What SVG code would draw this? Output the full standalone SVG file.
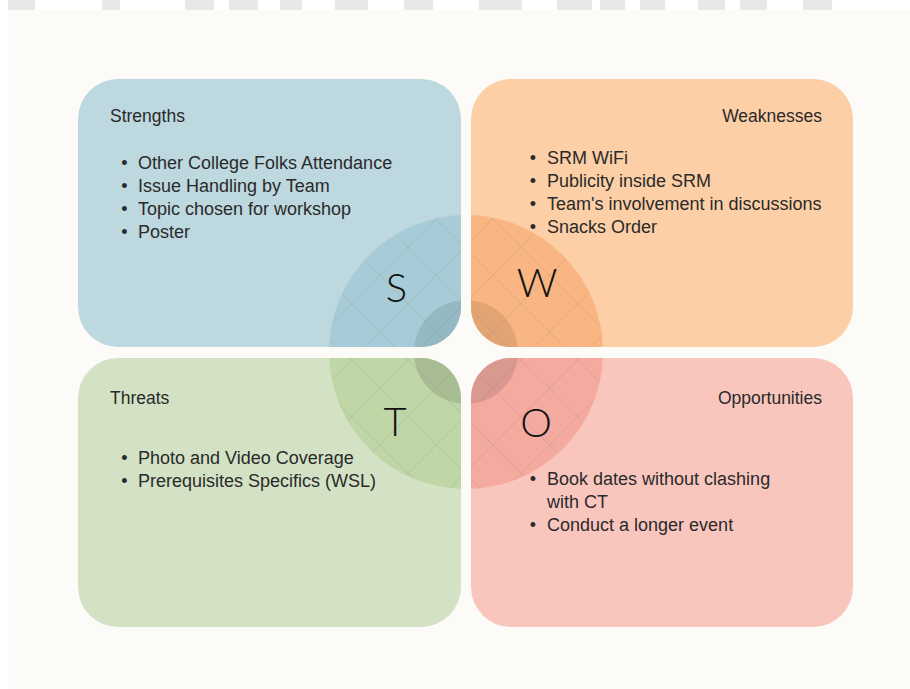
<svg xmlns="http://www.w3.org/2000/svg" width="910" height="689" viewBox="0 0 910 689">
  <style>
    .title { font-family: "Liberation Sans", Arial, sans-serif; font-size: 17.5px; fill: #2a2a2a; }
    .item { font-family: "Liberation Sans", Arial, sans-serif; font-size: 18px; fill: #2a2a2a; }
    .bullet { font-family: "Liberation Sans", Arial, sans-serif; font-size: 18px; fill: #2a2a2a; text-anchor: middle; }
    .letter { font-family: "Lato", "Open Sans", "DejaVu Sans", sans-serif; font-weight: 300; font-size: 40px; fill: #111; text-anchor: middle; }
    .end { text-anchor: end; }
    .wm { fill: #E8E8E8; }
  </style>
  <defs>
    <clipPath id="clipS"><rect x="78" y="79" width="383" height="268" rx="40" ry="40"/></clipPath>
    <clipPath id="clipW"><rect x="471" y="79" width="382" height="268" rx="40" ry="40"/></clipPath>
    <clipPath id="clipT"><rect x="78" y="358" width="383" height="269" rx="40" ry="40"/></clipPath>
    <clipPath id="clipO"><rect x="471" y="358" width="382" height="269" rx="40" ry="40"/></clipPath>
    <pattern id="grid" patternUnits="userSpaceOnUse" width="40" height="40" patternTransform="translate(12,20) rotate(45)">
      <path d="M0 0H40M0 0V40" fill="none" stroke="#6f6f6f" stroke-opacity="0.28" stroke-width="1"/>
    </pattern>
  </defs>

  <!-- page -->
  <rect x="0" y="0" width="910" height="689" fill="#FFFFFF"/>
  <g id="watermark">
    <rect class="wm" x="8" y="0" width="27" height="10"/>
    <rect class="wm" x="102" y="0" width="18" height="10"/>
    <rect class="wm" x="185" y="0" width="29" height="10"/>
    <rect class="wm" x="229" y="0" width="29" height="10"/>
    <rect class="wm" x="280" y="0" width="22" height="10"/>
    <rect class="wm" x="335" y="0" width="33" height="10"/>
    <rect class="wm" x="404" y="0" width="29" height="10"/>
    <rect class="wm" x="479" y="0" width="43" height="10"/>
    <rect class="wm" x="557" y="0" width="35" height="10"/>
    <rect class="wm" x="600" y="0" width="25" height="10"/>
    <rect class="wm" x="640" y="0" width="25" height="10"/>
    <rect class="wm" x="698" y="0" width="27" height="10"/>
    <rect class="wm" x="740" y="0" width="27" height="10"/>
    <rect class="wm" x="803" y="0" width="29" height="10"/>
  </g>
  <rect x="8" y="10" width="902" height="679" fill="#FCFBF8"/>

  <g id="strengths">
    <rect x="78" y="79" width="383" height="268" rx="40" ry="40" fill="#BDD8DF"/>
    <g clip-path="url(#clipS)">
      <circle cx="466" cy="352" r="137" fill="#A8CCD7"/>
      <circle cx="466" cy="352" r="52" fill="#95B9C3"/>
      <circle cx="466" cy="352" r="137" fill="url(#grid)"/>
    </g>
    <text class="letter" x="396.5" y="302">S</text>
    <text class="title" x="110" y="122">Strengths</text>
    <text class="bullet" x="124.5" y="168.5">•</text>
    <text class="item" x="138" y="168.5">Other College Folks Attendance</text>
    <text class="bullet" x="124.5" y="191.5">•</text>
    <text class="item" x="138" y="191.5">Issue Handling by Team</text>
    <text class="bullet" x="124.5" y="215">•</text>
    <text class="item" x="138" y="215">Topic chosen for workshop</text>
    <text class="bullet" x="124.5" y="238">•</text>
    <text class="item" x="138" y="238">Poster</text>
  </g>

  <g id="weaknesses">
    <rect x="471" y="79" width="382" height="268" rx="40" ry="40" fill="#FCCFA6"/>
    <g clip-path="url(#clipW)">
      <circle cx="466" cy="352" r="137" fill="#F9B682"/>
      <circle cx="466" cy="352" r="52" fill="#E3A474"/>
      <circle cx="466" cy="352" r="137" fill="url(#grid)"/>
    </g>
    <text class="letter" x="537" y="297">W</text>
    <text class="title end" x="822" y="122">Weaknesses</text>
    <text class="bullet" x="533" y="163.5">•</text>
    <text class="item" x="547" y="163.5">SRM WiFi</text>
    <text class="bullet" x="533" y="186.5">•</text>
    <text class="item" x="547" y="186.5">Publicity inside SRM</text>
    <text class="bullet" x="533" y="209.5">•</text>
    <text class="item" x="547" y="209.5">Team's involvement in discussions</text>
    <text class="bullet" x="533" y="232.5">•</text>
    <text class="item" x="547" y="232.5">Snacks Order</text>
  </g>

  <g id="threats">
    <rect x="78" y="358" width="383" height="269" rx="40" ry="40" fill="#D3E2C4"/>
    <g clip-path="url(#clipT)">
      <circle cx="466" cy="352" r="137" fill="#BFD6A7"/>
      <circle cx="466" cy="352" r="52" fill="#A8BD93"/>
      <circle cx="466" cy="352" r="137" fill="url(#grid)"/>
    </g>
    <text class="letter" x="395" y="436">T</text>
    <text class="title" x="110" y="403.5">Threats</text>
    <text class="bullet" x="124.5" y="463.5">•</text>
    <text class="item" x="138" y="463.5">Photo and Video Coverage</text>
    <text class="bullet" x="124.5" y="486.5">•</text>
    <text class="item" x="138" y="486.5">Prerequisites Specifics (WSL)</text>
  </g>

  <g id="opportunities">
    <rect x="471" y="358" width="382" height="269" rx="40" ry="40" fill="#F9C6BE"/>
    <g clip-path="url(#clipO)">
      <circle cx="466" cy="352" r="137" fill="#F4AA9F"/>
      <circle cx="466" cy="352" r="52" fill="#DA9990"/>
      <circle cx="466" cy="352" r="137" fill="url(#grid)"/>
    </g>
    <text class="letter" x="536" y="437">O</text>
    <text class="title end" x="822" y="404">Opportunities</text>
    <text class="bullet" x="533" y="485">•</text>
    <text class="item" x="547" y="485">Book dates without clashing</text>
    <text class="item" x="547" y="507.5">with CT</text>
    <text class="bullet" x="533" y="531">•</text>
    <text class="item" x="547" y="531">Conduct a longer event</text>
  </g>

  <g id="connectors"></g>
</svg>
